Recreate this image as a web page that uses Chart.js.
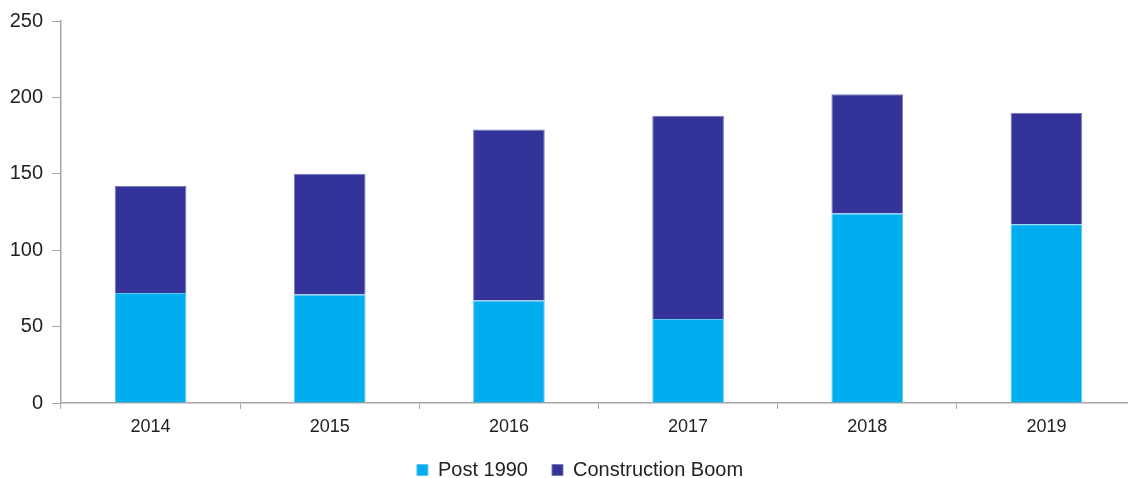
<!DOCTYPE html>
<html>
<head>
<meta charset="utf-8">
<script src="https://cdn.jsdelivr.net/npm/chart.js@4"></script>
<style>
  html, body { margin: 0; padding: 0; background: #fff; overflow: hidden; }
  #wrap { width: 1136px; height: 490px; position: relative; }
</style>
</head>
<body>
<div id="wrap"><canvas id="grafica"></canvas></div>
<script>
// Datos
const years = ["2014", "2015", "2016", "2017", "2018", "2019"];
const post1990 = [72, 71, 67, 55, 124, 117];
const constructionBoom = [70, 79, 112, 133, 78, 73];
const yTicks = [0, 50, 100, 150, 200, 250];

const axisGrey = "#a6a6a6";
const familia = "Liberation Sans, Arial, sans-serif";

// Desplazamos un poco la leyenda a la derecha, como en el original
const moverLeyenda = {
    id: "moverLeyenda",
    afterLayout(chart) {
        if (chart.legend) {
            chart.legend.left += 12;
            chart.legend.right += 12;
        }
    }
};

new Chart(document.getElementById("grafica"), {
    type: "bar",
    data: {
        labels: years,
        datasets: [
            {
                label: "Post 1990",
                data: post1990,
                backgroundColor: "#00aeef",
                borderColor: "#5cc8f2",
                borderWidth: 1,
                barPercentage: 0.4,
                categoryPercentage: 1
            },
            {
                label: "Construction Boom",
                data: constructionBoom,
                backgroundColor: "#333399",
                borderColor: "#7a7ab8",
                borderWidth: 1,
                barPercentage: 0.4,
                categoryPercentage: 1
            }
        ]
    },
    plugins: [moverLeyenda],
    options: {
        responsive: true,
        maintainAspectRatio: false,
        animation: false,
        layout: { padding: { top: 14, left: 0, right: 0, bottom: 0 } },
        plugins: {
            tooltip: { enabled: false },
            legend: {
                position: "bottom",
                labels: {
                    boxWidth: 11,
                    boxHeight: 11,
                    padding: 24,
                    color: "#222",
                    font: { family: familia, size: 20 }
                }
            }
        },
        scales: {
            x: {
                stacked: true,
                afterFit: (scale) => { scale.height = 33; },
                grid: {
                    offset: true,
                    drawOnChartArea: false,
                    color: axisGrey,
                    tickLength: 6
                },
                border: { color: axisGrey, width: 1.5 },
                ticks: { color: "#222", font: { family: familia, size: 18 }, padding: 7 }
            },
            y: {
                stacked: true,
                min: 0,
                max: 250,
                afterBuildTicks: (scale) => {
                    scale.ticks = yTicks.map((v) => ({ value: v }));
                },
                afterFit: (scale) => { scale.width = 61; },
                grid: {
                    drawOnChartArea: false,
                    color: axisGrey,
                    tickLength: 9
                },
                border: { color: axisGrey, width: 1.5 },
                ticks: { color: "#222", font: { family: familia, size: 20 }, padding: 9 }
            }
        }
    }
});
</script>
</body>
</html>
